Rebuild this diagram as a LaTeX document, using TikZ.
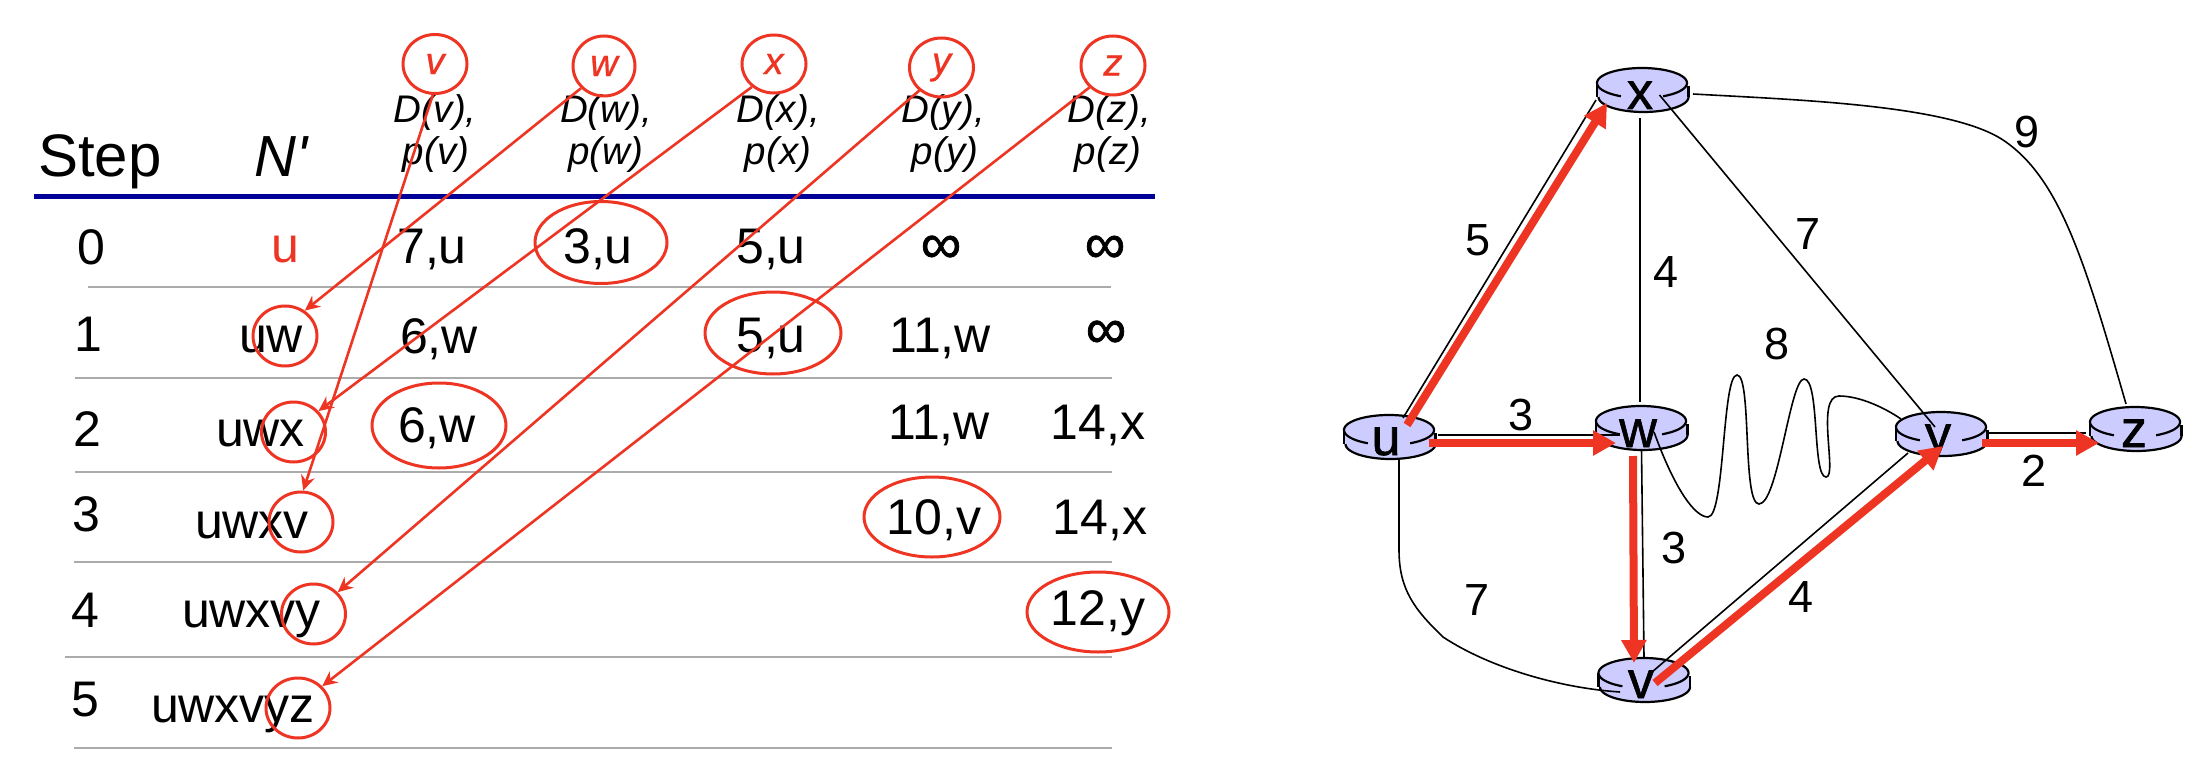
\documentclass[tikz,border=0pt]{standalone}
\usepackage{fontspec}
\setmainfont{Liberation Sans}
\newfontfamily\plainf{Liberation Sans}
\newfontfamily\boldish[FakeBold=1.2]{Liberation Sans}
\newfontfamily\itboldish[FakeBold=0.8]{Liberation Sans Italic}
\usetikzlibrary{arrows.meta,shapes.geometric}
\definecolor{rd}{HTML}{EE3524}
\definecolor{rtrfill}{HTML}{CCCCFF}
\definecolor{navy}{HTML}{000099}
\definecolor{rule}{HTML}{ABABAB}
\newcommand\fs[1]{\fontsize{#1}{#1}\selectfont}
\tikzset{
  x=1pt,y=-1pt,
  txt/.style={anchor=base,inner sep=0pt,outer sep=0pt,font=\fs{50}},
  inf/.style={anchor=base,inner sep=0pt,outer sep=0pt,font=\fs{57}\boldish},
  hdr/.style={anchor=base,inner sep=0pt,font=\fs{38.5}\itshape},
  lbl/.style={anchor=base,inner sep=0pt,font=\fs{45}},
  rlet/.style={anchor=base,inner sep=0pt,font=\fs{52}\boldish},
  ring/.style={draw=rd,ellipse,line width=3pt,inner sep=0pt,minimum width=2*#1},
  rowline/.style={draw=rule,line width=2.4pt},
  link/.style={draw=black,line width=1.6pt},
  pick/.style={draw=rd,line width=2.6pt,-{Stealth[length=15pt,width=14pt]}},
  tree/.style={draw=rd,line width=8pt,-{Triangle[length=23pt,width=24pt]}},
  rbody/.style={fill=rtrfill,draw=none},
  redge/.style={draw=black,line width=2.2pt},
}
\newcommand\rtr[3]{%
  % #1 name, #2 cx, #3 cy of upper ellipse
  \fill[rbody] (#2-45,#3) -- (#2-43.5,#3+14) -- (#2+46.5,#3+14) -- (#2+45,#3) -- cycle;
  \draw[redge,fill=rtrfill] plot[domain=0:180,samples=40] ({#2+1.5+45*cos(\x)},{#3+14+15*sin(\x)});
  \draw[redge] (#2-45,#3) -- (#2-45,#3+14);
  \draw[redge] (#2+46.5,#3+3) -- (#2+46.5,#3+14);
  \fill[rbody] (#2,#3) ellipse[x radius=45,y radius=15];
  \draw[redge] plot[domain=118:422,samples=70] ({#2+45*cos(\x)},{#3+15*sin(\x)});
  \node[inner sep=0pt,minimum width=90pt,minimum height=44pt] (#1) at (#2,#3+7) {};
}
\begin{document}
\begin{tikzpicture}
\useasboundingbox (0,0) rectangle (2202,770);
\fill[white] (0,0) rectangle (2202,770);

% ---- table rules
\draw[draw=navy,line width=4.8pt] (34,196.7) -- (1155,196.7);
\draw[rowline] (88,287) -- (1111,287);
\draw[rowline] (75,378) -- (1112,378);
\draw[rowline] (75,472) -- (1112,472);
\draw[rowline] (74,562) -- (1112,562);
\draw[rowline] (65,657) -- (1112,657);
\draw[rowline] (74,748) -- (1112,748);

% ---- header
\node[txt,font=\fs{60}] (step) at (100,177) {Step};
\node[txt,font=\fs{58}\itshape\plainf] (nprime) at (281,177) {N'};
\foreach \n/\l/\cx/\dx/\px in {v/v/435/435/436,w/w/604/606/606,x/x/774/778/778,y/y/941.5/943/945,z/z/1113/1109/1108}{
  \node[hdr] (d\n) at (\dx,123) {D(\l),};
  \node[hdr] (p\n) at (\px,165) {p(\l)};
}
\node[ring=32pt,minimum height=59pt,text=rd,font=\fs{38}\itboldish] (hv) at (435,64) {v};
\node[ring=31pt,minimum height=60pt,text=rd,font=\fs{38}\itboldish] (hw) at (604,66) {w};
\node[ring=32pt,minimum height=58pt,text=rd,font=\fs{38}\itboldish] (hx) at (774,64) {x};
\node[ring=32pt,minimum height=59pt,text=rd,font=\fs{38}\itboldish] (hy) at (941.5,67.5) {y};
\node[ring=32pt,minimum height=59pt,text=rd,font=\fs{38}\itboldish] (hz) at (1113,65.5) {z};

% ---- step numbers
\node[txt] (s0) at (91,264) {0};
\node[txt] (s1) at (88,351) {1};
\node[txt] (s2) at (87,446) {2};
\node[txt] (s3) at (86,531) {3};
\node[txt] (s4) at (85,627) {4};
\node[txt] (s5) at (85,716) {5};

% ---- N' column
\node[txt,text=rd] (n0) at (285,262) {u};
\node[txt] (n1) at (271,352) {uw};
\node[txt] (n2) at (260.5,446) {uwx};
\node[txt] (n3) at (252,538) {uwxv};
\node[txt] (n4) at (251.5,627) {uwxvy};
\node[txt] (n5) at (233,722) {uwxvyz};
\node[ring=32pt,minimum height=60pt] (c1) at (285,336) {};
\node[ring=32pt,minimum height=60pt] (c2) at (293.5,432) {};
\node[ring=32pt,minimum height=60pt] (c3) at (301,522) {};
\node[ring=32pt,minimum height=60pt] (c4) at (313.5,614) {};
\node[ring=32pt,minimum height=60pt] (c5) at (298,708) {};

% ---- values
\node[txt] (a1) at (432,263) {7,u};
\node[txt] (a2) at (598,263) {3,u};
\node[txt] (a3) at (771,263) {5,u};
\node[inf] (a4) at (941,263) {∞};
\node[inf] (a5) at (1105,263) {∞};
\node[txt] (b1) at (439,353) {6,w};
\node[txt] (b3) at (771,352) {5,u};
\node[txt] (b4) at (940,352) {11,w};
\node[inf] (b5) at (1106,348) {∞};
\node[txt] (e1) at (437,442) {6,w};
\node[txt] (e4) at (939,439) {11,w};
\node[txt] (e5) at (1098,439) {14,x};
\node[txt] (f4) at (934,534) {10,v};
\node[txt] (f5) at (1100,534) {14,x};
\node[txt] (g5) at (1098,625) {12,y};
\node[ring=66pt,minimum height=82pt] (k0) at (601,242.5) {};
\node[ring=68pt,minimum height=82pt] (k1) at (773,333) {};
\node[ring=67pt,minimum height=85pt] (k2) at (439,425.5) {};
\node[ring=68pt,minimum height=80pt] (k3) at (932,517) {};
\node[ring=71pt,minimum height=80pt] (k4) at (1098,612) {};

% ---- arrows from header circles to N' circles
\draw[pick] (hv.-94) -- (c3.86);
\draw[pick] (hw.-136) -- (c1.52);
\draw[pick] (hx.-134) -- (c2.40);
\draw[pick] (hy.-134) -- (c4.42);
\draw[pick] (hz.-137) -- (c5.42);

% ---- network
\rtr{u}{1389}{430}
\rtr{w}{1641}{421}
\rtr{x}{1642}{83}
\rtr{v}{1643.5}{673}
\rtr{y}{1941}{427}
\rtr{z}{2135}{422}

\node[rlet] (ut) at (1386,455) {u};
\node[rlet] (wt) at (1638,447) {w};
\node[rlet] (xt) at (1640,109) {x};
\node[rlet] (vt) at (1641,698) {v};
\begin{scope}
  \clip (1890,405) rectangle (1995,455);
  \node[rlet] (yt) at (1938,452) {y};
\end{scope}
\node[rlet] (zt) at (2134,447) {z};

\draw[link] ([shift={(14,-19)}]u.center) -- ([shift={(-46,10)}]x.center);
\draw[link] ([shift={(49,-2)}]u.center) -- ([shift={(-21,7)}]w.center);
\draw[link] ([shift={(-2,28)}]x.center) -- ([shift={(-1,-26)}]w.center);
\draw[link] ([shift={(17.5,5)}]x.center) -- ([shift={(-6,-7)}]y.center);
\draw[link] ([shift={(51,4)}]x.center) .. controls (1800,100) and (1950,105) .. (2003,140)
   .. controls (2060,178) and (2085,262) .. ([shift={(-9,-25)}]z.center);
\draw[link] ([shift={(13,4)}]w.center) .. controls (1675,490) and (1695,517) .. (1708,517)
   .. controls (1725,517) and (1722,375) .. (1737,375)
   .. controls (1752,375) and (1742,504) .. (1759,504)
   .. controls (1778,504) and (1790,379) .. (1804,379)
   .. controls (1820,379) and (1812,477) .. (1826,477)
   .. controls (1838,477) and (1815,396) .. (1839,396)
   .. controls (1860,396) and (1885,408) .. ([shift={(-40,-15)}]y.center);
\draw[link] ([shift={(10,21)}]u.center) -- (1399,550)
   .. controls (1399,590) and (1415,610) .. (1443,637)
   .. controls (1490,668) and (1560,688) .. ([shift={(-23.5,12)}]v.center);
\draw[link] ([shift={(0.5,22)}]w.center) -- ([shift={(0.5,-22)}]v.center);
\draw[link] ([shift={(8.5,-8)}]v.center) -- ([shift={(-33,19)}]y.center);
\draw[link] ([shift={(46,-1)}]y.center) -- ([shift={(-49,4)}]z.center);

\draw[tree] ([shift={(18,-12)}]u.center) -- ([shift={(-35,13)}]x.center);
\draw[tree] ([shift={(40,6)}]u.center) -- ([shift={(-25,15)}]w.center);
\draw[tree] ([shift={(-8,28)}]w.center) -- ([shift={(-9.5,-17)}]v.center);
\draw[tree] ([shift={(11.5,3)}]v.center) -- ([shift={(2,12)}]y.center);
\draw[tree] ([shift={(41,9)}]y.center) -- ([shift={(-36,14)}]z.center);

\node[lbl] (l5) at (1478,255) {5};
\node[lbl] (l4a) at (1666,287) {4};
\node[lbl] (l3a) at (1521,430) {3};
\node[lbl] (l8) at (1777,359) {8};
\node[lbl] (l7a) at (1808,249) {7};
\node[lbl] (l9) at (2027,148) {9};
\node[lbl] (l3b) at (1674,563) {3};
\node[lbl] (l7b) at (1477,615) {7};
\node[lbl] (l4b) at (1801,612) {4};
\node[lbl] (l2) at (2034,486) {2};
\end{tikzpicture}
\end{document}
